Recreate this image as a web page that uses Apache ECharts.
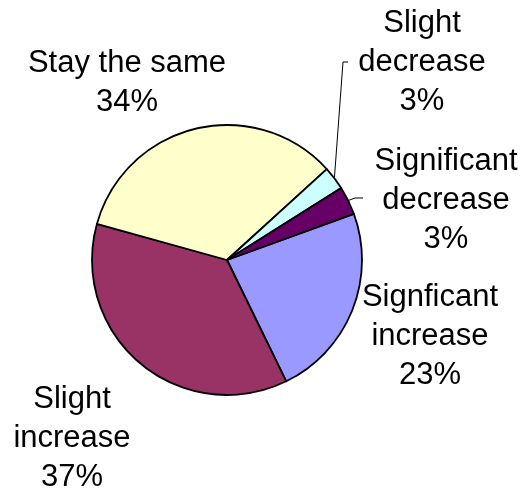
<!DOCTYPE html>
<html>
<head>
<meta charset="utf-8">
<script src="https://cdn.jsdelivr.net/npm/echarts@6/dist/echarts.min.js"></script>
<style>
html,body{margin:0;padding:0;background:#fff;}
#chart{width:522px;height:495px;}
</style>
</head>
<body>
<div id="chart"></div>
<script>
// order follows the slices clockwise, starting at the purple/blue edge
var categories = ['Signficant\nincrease', 'Slight\nincrease', 'Stay the same', 'Slight\ndecrease', 'Significant\ndecrease'];
var values = [23.3, 36.5, 33.9, 2.8, 3.4];
var colors = ['#9999FF', '#993366', '#FFFFCC', '#CCFFFF', '#660066'];

// label block centres (px) and the elbow of the leader line, by slice
var labelPos = [[430, 336], [72, 438], [127, 83], [422, 62], [446, 200]];
var elbows = [null, null, null, [[343, 62], [348, 62]], [[355, 198], [363, 198]]];

var chart = echarts.init(document.getElementById('chart'));

var data = [];
for (var i = 0; i < categories.length; i++) {
    data.push({
        name: categories[i],
        value: values[i],
        itemStyle: {color: colors[i]},
        labelLine: {show: elbows[i] != null}
    });
}

chart.setOption({
    animation: false,
    series: [{
        type: 'pie',
        center: [227, 260],
        radius: 135,
        startAngle: 20,
        clockwise: true,
        avoidLabelOverlap: false,
        data: data,
        itemStyle: {borderColor: '#000', borderWidth: 1.8},
        label: {
            show: true,
            position: 'outside',
            color: '#000',
            fontFamily: 'Liberation Sans, Arial, sans-serif',
            fontSize: 31,
            lineHeight: 39,
            align: 'center',
            formatter: function(p) {
                return p.name + '\n' + Math.round(p.percent) + '%';
            }
        },
        labelLine: {lineStyle: {color: '#000', width: 1}},
        emphasis: {disabled: true},
        labelLayout: function(p) {
            var i = p.dataIndex;
            var out = {
                x: labelPos[i][0],
                y: labelPos[i][1],
                align: 'center',
                verticalAlign: 'middle'
            };
            if (elbows[i] && p.labelLinePoints) {
                out.labelLinePoints = [p.labelLinePoints[0], elbows[i][0], elbows[i][1]];
            }
            return out;
        }
    }]
});
</script>
</body>
</html>
